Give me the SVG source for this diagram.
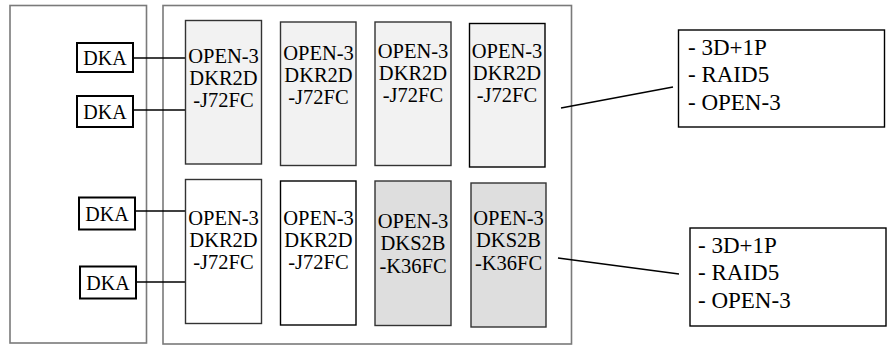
<svg xmlns="http://www.w3.org/2000/svg" width="888" height="347" viewBox="0 0 888 347" font-family="'Liberation Serif', 'DejaVu Serif', serif">
  <style>
    text { font-family: 'Liberation Serif', 'DejaVu Serif', serif; fill: #000; }
    .frame { fill: #fff; stroke: #7a7a7a; stroke-width: 1.6; }
    .dka rect { fill: #fff; stroke: #000; stroke-width: 2; }
    .dka text { font-size: 20px; text-anchor: middle; }
    .drive rect { stroke: #333; stroke-width: 1.4; }
    .drive text { font-size: 20.5px; text-anchor: middle; }
    .light rect { fill: #f2f2f2; }
    .plain rect { fill: #fff; }
    .dark rect { fill: #dedede; }
    .note rect { fill: #fff; stroke: #000; stroke-width: 1.4; }
    .note text { font-size: 23px; }
    .wire { stroke: #000; stroke-width: 1.4; fill: none; }
  </style>

  <!-- enclosures -->
  <g id="controller">
    <rect class="frame" x="10" y="5.5" width="136.5" height="337.5"/>
  </g>
  <g id="drive-tray">
    <rect class="frame" x="163" y="5.5" width="408.5" height="338.5"/>
  </g>

  <!-- connectors -->
  <g id="connectors">
    <line class="wire" x1="133" y1="58" x2="185" y2="58"/>
    <line class="wire" x1="133" y1="110" x2="185" y2="110"/>
    <line class="wire" x1="136" y1="211" x2="186" y2="211"/>
    <line class="wire" x1="137" y1="282" x2="186" y2="282"/>
    <line class="wire" x1="561" y1="108" x2="673" y2="87"/>
    <line class="wire" x1="558" y1="258" x2="679" y2="274"/>
  </g>

  <!-- disk adapters -->
  <g id="dka1" class="dka">
    <rect x="77" y="43" width="56" height="29"/>
    <text x="105" y="65">DKA</text>
  </g>
  <g id="dka2" class="dka">
    <rect x="77" y="96" width="56" height="31"/>
    <text x="105" y="119">DKA</text>
  </g>
  <g id="dka3" class="dka">
    <rect x="79" y="197.5" width="56" height="32"/>
    <text x="107" y="221">DKA</text>
  </g>
  <g id="dka4" class="dka">
    <rect x="80" y="266.5" width="56" height="32"/>
    <text x="108" y="290">DKA</text>
  </g>

  <!-- upper drive row -->
  <g id="drive-r1c1" class="drive light">
    <rect x="185.5" y="20.5" width="76" height="143.5"/>
    <text x="223.5" y="63">OPEN-3</text>
    <text x="223.5" y="85">DKR2D</text>
    <text x="223.5" y="107">-J72FC</text>
  </g>
  <g id="drive-r1c2" class="drive light">
    <rect x="280.5" y="22" width="75.5" height="143.5"/>
    <text x="318.5" y="60">OPEN-3</text>
    <text x="318.5" y="82">DKR2D</text>
    <text x="318.5" y="104">-J72FC</text>
  </g>
  <g id="drive-r1c3" class="drive light">
    <rect x="375" y="22" width="76" height="143.5"/>
    <text x="413" y="58">OPEN-3</text>
    <text x="413" y="80">DKR2D</text>
    <text x="413" y="102">-J72FC</text>
  </g>
  <g id="drive-r1c4" class="drive light">
    <rect x="469.5" y="23.5" width="75.5" height="143.5" style="stroke:#000"/>
    <text x="507" y="58">OPEN-3</text>
    <text x="507" y="80">DKR2D</text>
    <text x="507" y="102">-J72FC</text>
  </g>

  <!-- lower drive row -->
  <g id="drive-r2c1" class="drive plain">
    <rect x="185.5" y="179.5" width="76" height="144"/>
    <text x="223.5" y="225">OPEN-3</text>
    <text x="223.5" y="247">DKR2D</text>
    <text x="223.5" y="269">-J72FC</text>
  </g>
  <g id="drive-r2c2" class="drive plain">
    <rect x="280.5" y="181" width="75.5" height="144" style="stroke:#000"/>
    <text x="318.5" y="225">OPEN-3</text>
    <text x="318.5" y="247">DKR2D</text>
    <text x="318.5" y="269">-J72FC</text>
  </g>
  <g id="drive-r2c3" class="drive dark">
    <rect x="375" y="181" width="76" height="144.5"/>
    <text x="413" y="228">OPEN-3</text>
    <text x="413" y="250">DKS2B</text>
    <text x="413" y="273">-K36FC</text>
  </g>
  <g id="drive-r2c4" class="drive dark">
    <rect x="471" y="183" width="75" height="144"/>
    <text x="508.5" y="225">OPEN-3</text>
    <text x="508.5" y="247">DKS2B</text>
    <text x="508.5" y="270">-K36FC</text>
  </g>

  <!-- parity group notes -->
  <g id="note-upper" class="note">
    <rect x="678.5" y="30" width="206" height="97"/>
    <text x="688" y="55">- 3D+1P</text>
    <text x="688" y="82">- RAID5</text>
    <text x="688" y="110">- OPEN-3</text>
  </g>
  <g id="note-lower" class="note">
    <rect x="690" y="228" width="196" height="98"/>
    <text x="698" y="253">- 3D+1P</text>
    <text x="698" y="280">- RAID5</text>
    <text x="698" y="308">- OPEN-3</text>
  </g>
</svg>
